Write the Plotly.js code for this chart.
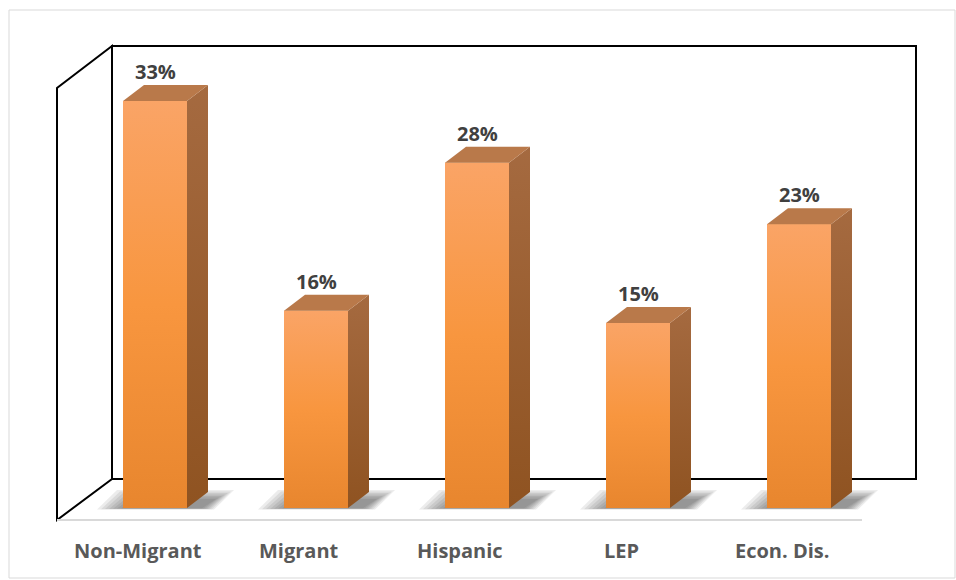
<!DOCTYPE html>
<html>
<head>
<meta charset="utf-8">
<script src="https://cdn.plot.ly/plotly-3.0.1.min.js"></script>
<style>html,body{margin:0;padding:0;background:#fff;}#chart{width:956px;height:580px;}</style>
</head>
<body>
<div id="chart"></div>
<script>
// ---- data ----
const categories = ['Non-Migrant', 'Migrant', 'Hispanic', 'LEP', 'Econ. Dis.'];
const values = [33, 16, 28, 15, 23];
const valueLabels = ['33%', '16%', '28%', '15%', '23%'];

// ---- geometry (pixels -> data conversion) ----
const W = 956, H = 580;
const PX_PER_CAT = 161, CAT0_PX = 155, BASE_PX = 508, PX_PER_UNIT = 12.333;
const X = px => (px - CAT0_PX) / PX_PER_CAT;
const Y = py => (BASE_PX - py) / PX_PER_UNIT;
const DX = px => px / PX_PER_CAT;
const DY = py => py / PX_PER_UNIT;

const barWidth = DX(64);
const hw = barWidth / 2;
const ddx = DX(21), ddy = DY(16);

const xs = categories.map((c, i) => i);

const traces = [];
// main bars (front faces)
traces.push({
  type: 'bar', x: xs, y: values, width: barWidth, base: 0,
  marker: { color: '#F7973F', line: { width: 0 } },
  hoverinfo: 'skip', showlegend: false
});
// gradient overlays on front faces, side faces, top faces
values.forEach((v, i) => {
  const xl = i - hw, xr = i + hw;
  traces.push({
    type: 'scatter', mode: 'lines', x: [xl, xr, xr, xl, xl], y: [0, 0, v, v, 0],
    fill: 'toself', line: { width: 0, color: 'rgba(0,0,0,0)' },
    fillgradient: { type: 'vertical', colorscale: [[0, '#E8862E'], [0.5, '#F8963F'], [1, '#FAA466']] },
    hoverinfo: 'skip', showlegend: false
  });
  traces.push({
    type: 'scatter', mode: 'lines', x: [xr, xr + ddx, xr + ddx, xr, xr], y: [0, ddy, v + ddy, v, 0],
    fill: 'toself', line: { width: 0, color: 'rgba(0,0,0,0)' },
    fillgradient: { type: 'vertical', colorscale: [[0, '#8F5321'], [1, '#A56A40']] },
    hoverinfo: 'skip', showlegend: false
  });
  traces.push({
    type: 'scatter', mode: 'lines', x: [xl, xr, xr + ddx, xl + ddx, xl], y: [v, v, v + ddy, v + ddy, v],
    fill: 'toself', line: { width: 0, color: 'rgba(0,0,0,0)' },
    fillcolor: '#B9794A',
    hoverinfo: 'skip', showlegend: false
  });
});

// ---- shapes: walls, floor, shadows, border ----
const wallLine = { color: '#000000', width: 2 };
const shapes = [
  // outer chart border
  { type: 'rect', xref: 'paper', yref: 'paper', x0: 9 / W, x1: 955 / W, y0: 1 - 578 / H, y1: 1 - 10 / H,
    line: { color: '#D9D9D9', width: 1 }, fillcolor: 'rgba(0,0,0,0)', layer: 'below' },
  // back wall
  { type: 'rect', xref: 'x', yref: 'y', x0: X(112), x1: X(916), y0: Y(479), y1: Y(46),
    line: wallLine, fillcolor: 'rgba(0,0,0,0)', layer: 'below' },
  // left side wall
  { type: 'path', xref: 'x', yref: 'y',
    path: `M ${X(57)} ${Y(520)} L ${X(57)} ${Y(88)} L ${X(112)} ${Y(46)} L ${X(112)} ${Y(479)} Z`,
    line: wallLine, fillcolor: 'rgba(0,0,0,0)', layer: 'below' },
  // floor front edge
  { type: 'line', xref: 'x', yref: 'y', x0: X(57), x1: X(862), y0: Y(520), y1: Y(520),
    line: { color: '#D9D9D9', width: 2 }, layer: 'below' }
];
// soft shadows below bars (layered for a blurred look, darker towards the right)
values.forEach((v, i) => {
  const xl = i - hw, xr = i + hw + ddx;
  for (let k = 0; k < 7; k++) {
    const a = xl - DX(26 - 4 * k), b = xr + DX(26 - 3 * k);
    const yb = -DY(1.5 - 0.2 * k), yt = DY(18 - 1.5 * k);
    const sk = DX(20 - k);
    shapes.push({
      type: 'path', xref: 'x', yref: 'y',
      path: `M ${a} ${yb} L ${b - sk} ${yb} L ${b} ${yt} L ${a + sk} ${yt} Z`,
      fillcolor: 'rgba(30,30,30,0.085)', line: { width: 0 }, layer: 'below'
    });
  }
});

// ---- annotations ----
const annotations = [];
values.forEach((v, i) => {
  annotations.push({
    xref: 'x', yref: 'y', x: i, y: v + ddy, text: valueLabels[i],
    showarrow: false, xanchor: 'center', yanchor: 'bottom', yshift: -2,
    font: { family: 'Open Sans, sans-serif', size: 20, color: '#404040', weight: 'bold' }
  });
  annotations.push({
    xref: 'x', yref: 'y', x: i, y: Y(550), text: categories[i],
    showarrow: false, xanchor: 'center', yanchor: 'middle', xshift: -17,
    font: { family: 'Open Sans, sans-serif', size: 20, color: '#595959', weight: 'bold' }
  });
});

const layout = {
  width: W, height: H,
  margin: { l: 0, r: 0, t: 0, b: 0, pad: 0 },
  paper_bgcolor: '#ffffff', plot_bgcolor: '#ffffff',
  showlegend: false, hovermode: false,
  xaxis: { range: [X(0), X(W)], visible: false, fixedrange: true },
  yaxis: { range: [Y(H), Y(0)], visible: false, fixedrange: true },
  shapes: shapes, annotations: annotations
};

Plotly.newPlot('chart', traces, layout, { displayModeBar: false, staticPlot: true });
</script>
</body>
</html>
